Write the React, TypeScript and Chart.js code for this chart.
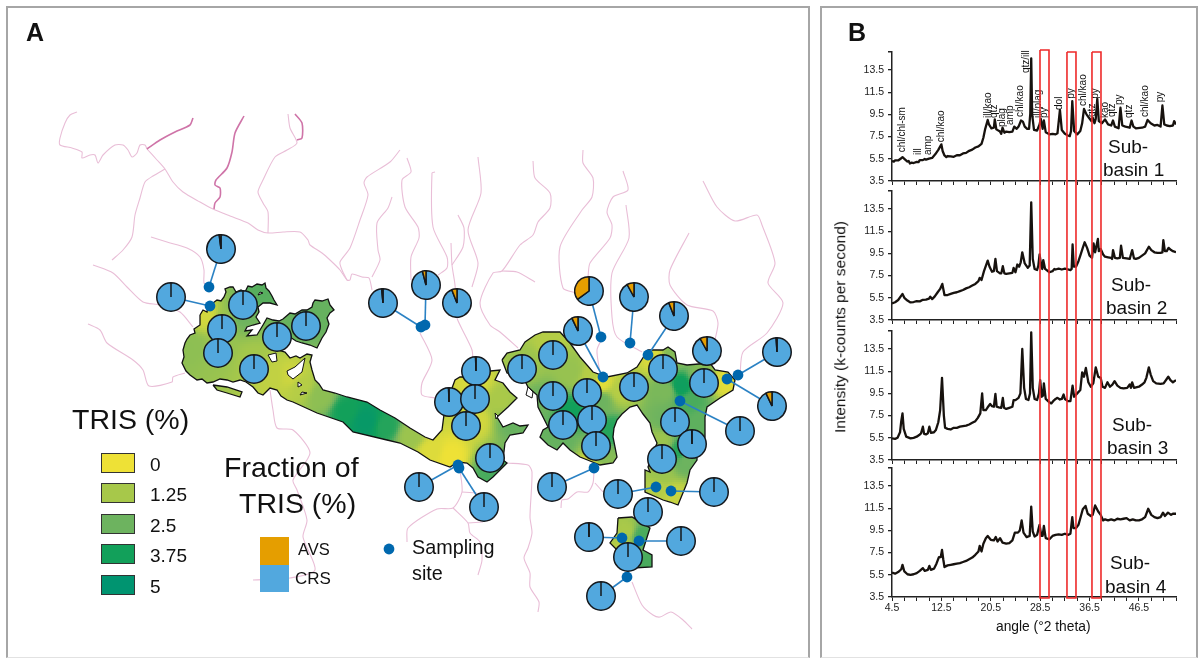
import React, { useEffect, useRef } from "react";
import { Chart, registerables } from "chart.js";
Chart.register(...registerables);

type P = [number, number];
const FONT = '"Liberation Sans", Arial, sans-serif';

/* ---------- Panel A: map data (map units) ---------- */
const riversLight: P[][] = [
  [[77,112],[70,115],[65,123],[60,138],[60,145],[72,148],[82,152],[82,158],[90,155],[95,155],[98,163],[103,155],[115,145],[123,145],[128,150],[132,157],[137,153],[140,145],[145,145],[147,149]],
  [[147,149],[157,160],[165,169],[173,182],[183,192],[200,202],[213,209],[230,216],[248,223],[258,230],[268,233],[283,232],[300,232],[308,240],[310,245],[322,253],[330,260],[340,270],[347,280],[350,280],[352,274],[362,277],[369,278],[372,290]],
  [[268,233],[268,212],[263,203],[258,192],[263,180],[275,157],[287,150],[297,143],[290,128],[288,114]],
  [[165,169],[153,176],[145,182],[140,198],[135,215],[132,237],[123,250],[112,260]],
  [[151,237],[167,242],[187,248],[200,257],[204,270],[204,283],[208,287]],
  [[93,265],[113,273],[127,287],[143,302],[160,305],[180,312],[193,327]],
  [[88,324],[100,330],[107,343],[133,360],[143,370],[149,386],[172,382],[173,377],[185,373]],
  [[270,390],[273,410],[277,428],[293,430],[310,453],[293,480],[297,490],[307,520],[303,537],[315,570],[290,578],[253,580]],
  [[400,150],[390,162],[367,177],[364,183],[368,195],[360,220],[350,248],[340,262],[342,270],[347,280]],
  [[392,197],[388,208],[377,223],[378,250],[380,260],[372,277]],
  [[407,158],[411,172],[402,180],[405,207],[418,227],[419,238],[411,257],[411,280]],
  [[435,172],[432,173],[433,227],[447,257],[447,268],[438,275]],
  [[478,157],[481,193],[468,230],[478,263],[472,287]],
  [[458,215],[464,228],[463,247],[452,265]],
  [[451,243],[452,265],[455,285],[456,305],[457,318],[465,335],[472,350],[473,360]],
  [[420,333],[432,360],[422,383],[422,395],[435,398]],
  [[533,161],[535,178],[550,193],[550,208],[538,222],[533,235],[520,245],[502,271],[493,273],[480,303],[490,325],[500,332],[518,348]],
  [[502,271],[517,272],[535,282]],
  [[583,150],[583,163],[593,178],[592,197],[582,210],[560,247],[563,288],[577,293]],
  [[623,171],[628,190],[613,197],[607,212],[612,225],[610,238],[590,263],[588,277]],
  [[626,205],[629,238],[612,273],[612,317],[617,337],[642,352]],
  [[689,233],[670,270],[670,285],[687,305],[713,311],[718,323],[715,340]],
  [[703,181],[717,207],[735,221],[757,215],[762,225],[775,263],[768,283],[783,303],[767,333],[743,352],[740,377]],
  [[603,337],[597,350],[600,373]],
  [[460,470],[462,492],[453,508],[437,509],[408,528],[407,542]],
  [[462,492],[477,493]],
  [[453,508],[468,523],[470,533],[480,542],[482,560],[478,575]],
  [[468,523],[483,522]],
  [[507,463],[528,465],[532,472],[530,517],[532,533],[528,548],[524,558],[530,573],[530,587],[539,602],[538,612]],
  [[594,470],[593,483],[588,492],[577,492],[568,499],[562,500],[561,508]],
  [[595,483],[603,492]],
  [[632,582],[642,605],[653,615],[660,617],[671,612],[683,620],[692,629]],
];
const riversDark: P[][] = [
  [[147,149],[160,140],[175,132],[190,125],[193,118]],
  [[214,209],[215,203],[220,197],[220,188],[215,185],[216,180],[227,168],[232,152],[235,133],[244,116]],
  [[297,140],[302,138],[302,123],[295,114]],
];

const lakeWest: P[] = [[200,315],[203,310],[207,312],[208,304],[213,303],[217,300],[221,301],[224,297],[226,292],[225,289],[230,287],[233,287],[236,292],[241,290],[245,292],[248,286],[252,287],[257,284],[262,285],[265,283],[266,288],[269,291],[272,296],[274,300],[277,305],[270,303],[263,303],[258,307],[259,312],[256,317],[260,323],[253,325],[247,327],[245,331],[252,330],[247,336],[257,335],[263,325],[267,318],[273,320],[279,321],[283,319],[290,313],[295,314],[302,310],[307,310],[312,307],[313,303],[315,300],[322,301],[328,299],[330,305],[334,310],[330,313],[327,318],[329,324],[326,332],[322,338],[317,348],[310,345],[302,343],[296,341],[290,337],[284,344],[278,350],[285,352],[290,358],[296,356],[300,358],[307,354],[312,355],[310,362],[312,370],[315,380],[319,384],[323,390],[335,393],[347,397],[367,402],[380,410],[395,418],[410,428],[425,437],[433,440],[442,430],[445,407],[455,380],[460,377],[467,377],[480,372],[500,370],[495,380],[503,383],[510,392],[517,398],[508,407],[497,417],[503,427],[513,423],[520,426],[528,425],[523,433],[510,435],[505,443],[503,460],[507,463],[500,470],[493,477],[487,482],[478,477],[473,468],[467,463],[458,462],[450,467],[430,460],[418,452],[400,443],[387,440],[353,432],[343,422],[317,413],[293,402],[287,400],[281,396],[277,390],[270,388],[266,392],[263,395],[258,393],[253,387],[246,382],[240,380],[233,382],[227,380],[220,379],[213,382],[207,383],[202,379],[197,380],[190,375],[186,371],[182,363],[184,357],[183,350],[185,343],[187,339],[190,335],[195,333],[194,329],[200,325]];
const lakeIslet: P[] = [[213,385],[227,387],[242,392],[240,397],[227,393],[217,390]];
const lakeEast: P[] = [[502,360],[507,353],[520,350],[525,342],[535,335],[543,332],[560,332],[570,343],[580,357],[593,372],[607,377],[627,373],[637,367],[648,350],[663,350],[668,347],[675,352],[677,363],[687,365],[710,363],[715,370],[728,372],[735,380],[733,390],[720,398],[707,407],[705,417],[705,437],[697,450],[697,460],[690,470],[687,483],[678,505],[670,502],[663,500],[645,492],[645,470],[650,472],[648,467],[657,443],[652,432],[650,423],[643,414],[637,405],[630,407],[622,414],[617,420],[614,428],[613,437],[617,457],[613,463],[600,465],[590,461],[580,457],[570,450],[563,443],[557,450],[548,445],[540,437],[543,430],[548,427],[543,417],[538,407],[537,395],[528,387],[523,377],[507,373]];
const lakeSouth: P[] = [[618,518],[632,517],[640,522],[650,528],[643,550],[652,555],[652,567],[633,568],[617,550],[610,543],[617,533]];
const lakeHoles: P[][] = [
  [[287,371],[295,367],[305,358],[302,372],[293,379],[288,375]],
  [[268,355],[276,353],[277,361],[272,362]],
  [[260,292],[263,293],[258,295]],
  [[302,392],[307,393],[300,395]],
  [[298,382],[302,385],[298,387]],
  [[528,387],[533,392],[532,398],[526,395]],
  [[495,413],[498,416],[496,419]],
];

const trisField: [number, number, number][] = [
  [205,315,0.5],[225,320,1.5],[240,315,2.5],[260,290,2.8],[320,310,2.6],[300,325,2.6],[190,345,1.8],[220,350,1.6],[250,360,1.3],[270,375,0.8],[290,375,0.6],[300,385,1.0],[320,395,1.8],[345,410,3.75],[365,420,4.5],[385,425,3.5],[410,435,1.5],[430,450,0.3],[450,455,0],[475,420,0.5],[475,380,0.4],[500,400,1.2],[490,470,3],[510,420,2.6],
  [525,365,1.5],[550,340,1.0],[570,370,1.6],[590,375,1.0],[600,382,0.2],[540,400,2.5],[570,410,3.8],[600,400,2.5],[620,390,1.0],[610,430,3.5],[560,440,2.6],[600,455,2.0],[590,465,0.3],
  [655,358,0.3],[670,355,2.0],[665,390,2.2],[680,385,4.0],[700,375,2.0],[725,380,0.2],[690,400,3],[665,420,2.5],[700,420,2.7],[660,440,1.5],[680,450,3.5],[660,470,1.5],[685,460,2.5],[655,490,1.0],[675,495,0.7],
  [625,530,1.2],[640,535,3],[625,550,0.8],[645,560,3],
];

const trisLevels = [0, 1.25, 2.5, 3.75, 5];
const trisLabels = ["0", "1.25", "2.5", "3.75", "5"];
const trisColors = ["#EEE136", "#A7C84A", "#6DB35F", "#12A05A", "#009470"];
const trisRgb: number[][] = [[238,225,54],[167,200,74],[109,179,95],[18,160,90],[0,148,112]];

const pieX = [221,171,243,222,218,254,277,306,383,426,457,476,449,475,466,490,522,553,553,563,587,592,596,634,578,589,634,674,663,707,704,777,772,740,675,692,662,419,484,552,618,714,648,589,681,628,601];
const pieY = [249,297,305,329,353,369,337,326,303,285,303,371,402,399,426,458,369,355,396,425,393,420,446,387,331,291,297,316,369,351,383,352,406,431,422,444,459,487,507,487,494,492,512,537,541,557,596];
const pieAVS = [2,0,0,0,0,0,0,0,1.5,4,6,0.5,0.5,0,0,0,0,0,0,0,0,0,0,0,7,35,8,6,0,8,0,1,7,0,0,0.3,0,0,0,0,0,0,0,0.3,0,0,0];

const siteX = [209,210,421,425,601,630,648,603,738,727,680,458,459,594,656,671,622,639,627];
const siteY = [287,306,327,325,337,343,355,377,375,379,401,465,468,468,487,491,538,541,577];
const legendSiteX = [389];
const legendSiteY = [549];
// pie index -> site index
const links: P[] = [[0,0],[1,1],[8,2],[9,3],[24,7],[25,4],[26,5],[27,6],[31,8],[32,9],[33,10],[37,11],[38,12],[39,13],[40,14],[41,15],[43,16],[44,17],[46,18]];

/* ---------- Panel B: XRD traces ---------- */
const basin1Trace: P[] = [[4.5,5.3],[4.8,5.25],[5,5.35],[5.5,5.35],[6,5.55],[6.2,5.65],[6.5,5.5],[7,5.25],[7.2,5.3],[7.4,5.08],[7.7,5.15],[8,5.12],[8.5,5.22],[8.8,5.2],[9,5.38],[9.5,5.38],[9.8,5.48],[10,5.42],[10.5,5.52],[11,5.58],[11.5,5.9],[12,6.3],[12.5,6.8],[12.7,6.2],[13,5.8],[13.3,5.65],[13.5,5.75],[14,5.72],[14.5,5.68],[15,5.82],[15.5,5.82],[16,5.98],[16.5,6.03],[17,6.22],[17.5,6.33],[18,6.52],[18.5,6.62],[19,6.85],[19.3,7.4],[19.6,8.2],[20,9],[20.2,8.6],[20.6,8.25],[21,8.3],[21.15,9.05],[21.4,8.15],[22,7.95],[22.2,7.75],[22.4,8.3],[22.7,7.85],[23,7.95],[23.5,7.9],[24,7.95],[24.3,8.4],[24.7,8.2],[25,8.4],[25.4,8.95],[25.7,8.85],[26,8.4],[26.4,8.2],[26.7,8.2],[26.9,9.6],[27.05,14.55],[27.2,9.5],[27.5,8.1],[28,8.05],[28.4,8.6],[28.6,9.1],[28.9,8.2],[29.1,8.95],[29.4,7.9],[30,7.7],[30.5,7.75],[31,7.7],[31.3,7.8],[31.7,9.9],[32,8.1],[32.5,7.75],[33,7.6],[33.3,7.55],[33.5,8],[33.7,10.7],[34,8],[34.5,7.7],[35,8],[35.3,8.7],[35.6,10],[36,9.5],[36.4,9.2],[36.8,8.9],[37,9.2],[37.3,8.7],[37.5,9.1],[37.75,10.9],[38,8.9],[38.5,8.7],[39,9.05],[39.5,8.6],[40,8.5],[40.3,8.95],[40.6,8.4],[41.2,8.25],[41.5,10.1],[41.8,8.5],[42.3,8.4],[43,8.3],[43.3,8.95],[43.6,8.4],[44,8.25],[45,8.3],[45.5,8.4],[45.9,9],[46.4,8.7],[47,8.5],[47.5,8.55],[48,8.4],[48.3,10.3],[48.6,8.6],[49,8.5],[49.5,8.45],[50,8.5],[50.2,8.9],[50.5,8.6]];
const basin2Trace: P[] = [[4.5,5],[5,5.1],[5.5,5.3],[6,5.7],[6.2,5.85],[6.5,5.5],[7,5.25],[7.5,5.08],[8,5.12],[8.5,5.2],[9,5.18],[9.5,5.32],[10,5.33],[10.5,5.42],[10.7,5.6],[11,5.38],[11.4,5.6],[11.9,6],[12.3,6.3],[12.65,6.75],[13,5.75],[13.5,5.75],[14,5.85],[14.5,5.95],[15,6],[15.5,6.1],[16,6.2],[16.5,6.35],[17,6.45],[17.5,6.6],[18,6.75],[18.5,7],[18.7,7.3],[19,7.1],[19.4,7.9],[20,8.85],[20.3,8.3],[20.7,7.85],[21,7.9],[21.25,9],[21.5,7.9],[22,7.7],[22.2,7.7],[22.45,8.35],[22.7,7.7],[23,7.65],[23.5,7.7],[24,7.75],[24.2,8.2],[24.5,7.8],[24.8,8.5],[25.1,8.3],[25.35,8.7],[25.6,9.6],[26,8.6],[26.5,8.2],[26.8,8.4],[27.05,14.1],[27.3,9],[27.6,8.1],[28,8],[28.2,8.4],[28.4,9.4],[28.7,8.3],[28.85,8.1],[29,8.9],[29.3,8.1],[30,7.8],[30.5,7.9],[30.8,8.1],[31,8.05],[31.5,8.12],[32,8.05],[32.5,8.12],[33,8.05],[33.4,8],[33.6,8.1],[33.75,10.3],[33.95,8.3],[34.3,8.3],[34.7,8.8],[35,9.3],[35.4,10],[35.7,10.5],[36.1,10],[36.5,9.3],[36.9,9.1],[37.15,10.4],[37.4,9.6],[37.85,10.8],[38,9.7],[38.3,9.9],[38.7,9.4],[39,9.2],[39.5,9.15],[40,9.1],[40.15,9],[40.3,9.8],[40.6,9.1],[41,9.05],[41.4,9.1],[41.6,10.2],[41.9,9.1],[42.5,9.05],[43,9],[43.4,9.8],[43.7,9.05],[44,9],[44.5,9.1],[45,9.3],[45.5,9.5],[46.1,10.1],[46.5,9.8],[47,9.6],[47.5,9.55],[48,9.55],[48.3,9.6],[48.45,10.7],[48.7,9.7],[49,9.7],[49.3,10],[49.7,9.8],[50,9.7],[50.5,9.6]];
const basin3Trace: P[] = [[4.5,5.45],[5,5.4],[5.4,5.5],[5.8,6],[6,7],[6.2,7.7],[6.4,6.3],[6.8,5.6],[7.5,5.45],[8,5.5],[8.5,5.6],[8.9,5.75],[9.2,5.9],[9.5,6.5],[9.7,5.85],[10,5.8],[10.3,5.9],[10.55,6.5],[10.8,5.95],[11.3,6],[11.6,6.2],[12,6.9],[12.3,8],[12.6,10.9],[12.9,7.5],[13.1,6.4],[13.5,6.3],[14,6.25],[14.5,6.4],[15,6.4],[15.5,6.5],[16,6.55],[16.5,6.6],[17,6.7],[17.5,6.85],[18,7],[18.4,7.3],[18.8,7.7],[19.1,9.5],[19.3,8],[19.7,8],[20,8.25],[20.4,8.55],[20.7,8.35],[21,8.3],[21.25,9.45],[21.45,8.3],[21.8,8.25],[22.2,8.2],[22.45,9.1],[22.65,8.2],[23,8.1],[23.5,8.2],[24,8.3],[24.2,8.9],[24.5,8.9],[25,9.1],[25.3,9.5],[25.6,13.5],[25.9,10],[26.2,9],[26.6,8.9],[26.85,9.5],[27.05,15],[27.3,10],[27.6,9],[28,8.9],[28.3,9.5],[28.5,10.7],[28.75,9.2],[28.95,9.3],[29.1,10.4],[29.4,9],[30,8.7],[30.3,8.6],[30.6,8.8],[31,9],[31.3,9.1],[31.7,8.95],[32,9],[32.3,9.4],[32.5,9],[33,8.8],[33.4,8.8],[33.75,10.2],[34,9.2],[34.5,9.5],[35,9.8],[35.3,11.4],[35.6,11],[35.9,11.8],[36.3,10.5],[36.7,10.1],[37.1,10.4],[37.5,11.85],[37.9,11],[38.3,10.9],[38.6,10.1],[39,10],[39.4,10.5],[39.8,10.1],[40.2,10.3],[40.55,10.6],[41,10.2],[41.5,10],[42,9.95],[42.6,10],[43,10.3],[43.2,10],[43.4,10.5],[43.7,10],[44.5,10.1],[45,10.3],[45.4,10.5],[45.7,10.9],[46.1,11.85],[46.4,11.2],[46.8,10.6],[47.3,10.4],[48,10.35],[48.5,10.4],[49.25,11],[49.6,10.7],[50,10.5],[50.5,10.7]];
const basin4Trace: P[] = [[4.5,5.7],[5,5.6],[5.5,5.75],[6,6],[6.2,6.4],[6.5,5.8],[7,5.55],[7.5,5.5],[8,5.55],[8.5,5.65],[9,5.85],[9.5,6.1],[9.8,5.85],[10.3,5.95],[10.55,6.3],[10.8,5.95],[11.3,6.05],[11.7,6.5],[12.1,7.1],[12.4,7.1],[12.6,7.75],[12.8,6.9],[13,6.2],[13.5,6.35],[14,6.4],[14.5,6.45],[15,6.5],[15.5,6.55],[16,6.65],[16.5,6.75],[17,6.9],[17.5,7.05],[18,7.3],[18.5,7.6],[18.7,8.1],[19,7.6],[19.3,8.3],[19.7,8.8],[20,9],[20.5,8.65],[21,8.6],[21.3,8.9],[21.6,8.5],[22,8.8],[22.4,8.4],[23,8.3],[23.5,8.35],[24,8.6],[24.4,9.3],[24.9,9.3],[25.2,9.5],[25.5,10.4],[25.8,9.3],[26.3,8.9],[26.8,9],[27.05,11.65],[27.3,9.4],[27.6,8.95],[28,9.1],[28.4,10],[28.7,9],[28.9,9],[29.1,9.9],[29.4,8.8],[30,8.7],[30.5,9],[31,9.1],[31.5,9.15],[32,9.1],[32.5,9.2],[33,9.1],[33.4,9.2],[33.7,10.7],[33.9,9.7],[34.3,9.7],[34.7,10],[35,10.6],[35.4,11.4],[35.85,11.7],[36.2,11],[36.7,10.8],[37,10.9],[37.4,11.75],[37.9,11.2],[38.3,10.9],[38.7,10.4],[39,10.5],[39.5,10.4],[40,10.5],[40.5,10.4],[41,10.55],[41.5,10.5],[42,10.55],[42.5,10.6],[43,10.4],[43.5,10.5],[44,10.4],[44.5,10.4],[45,10.5],[45.5,10.7],[46,11.45],[46.5,10.9],[47,10.7],[47.5,10.6],[48,10.7],[48.4,11.1],[48.7,10.8],[49.2,11.1],[49.7,10.9],[50,11],[50.5,11]];

const basinTraces = [basin1Trace, basin2Trace, basin3Trace, basin4Trace];
const basinLabels = ["Sub-basin 1", "Sub-basin 2", "Sub-basin 3", "Sub-basin 4"];
const intensityTicks = [3.5, 5.5, 7.5, 9.5, 11.5, 13.5, 15.12];
const angleTicks = [4.5,6.5,8.5,10.5,12.5,14.5,16.5,18.5,20.5,22.5,24.5,26.5,28.5,30.5,32.5,34.5,36.5,38.5,40.5,42.5,44.5,46.5,48.5,50.5];
const angleLabelAt = [4.5, 12.5, 20.5, 28.5, 36.5, 44.5];
const angleLabelText = ["4.5", "12.5", "20.5", "28.5", "36.5", "46.5"];

const peakNames = ["chl/chl-sm","ill","amp","chl/kao","ill/kao","qtz","plag","amp","chl/kao","qtz/ill","ill/plag","py","dol","py","chl/kao","qtz","py","kao","qtz","py","qtz","chl/kao","py"];
const peakAngle = [6.1,8.7,10.3,12.4,20.05,21,22.3,23.6,25.2,26.2,28.15,29.1,31.55,33.5,35.4,36.9,37.5,39,40.1,41.3,42.9,45.6,48];
const peakBase = [6.1,5.84,5.84,7,9.18,9.18,8.36,8.55,9.27,13.23,9.18,9.18,9.9,10.9,10.26,9.27,10.9,9.18,9.27,10.35,9.18,9.27,10.6];

const boxLeft = [28.47, 32.84, 36.89];
const boxRight = [29.93, 34.3, 38.35];
const boxTop = [50, 52, 52];
const boxBottom = [598, 598, 598];

const pts = (a: P[]) => a.map(([x, y]) => ({ x, y }));
const closed = (a: P[]) => pts([...a, a[0]]);

function trisToRgb(v: number) {
  const t = Math.max(0, Math.min(trisLevels.length - 1.001, v / 1.25));
  const i = Math.floor(t), f = t - i;
  const a = trisRgb[i], b = trisRgb[i + 1];
  return [0, 1, 2].map((k) => Math.round(a[k] + (b[k] - a[k]) * f));
}

function makeField(W: number, H: number) {
  const c = document.createElement("canvas");
  c.width = W; c.height = H;
  const g = c.getContext("2d")!;
  g.fillStyle = trisColors[2];
  g.fillRect(0, 0, W, H);
  const step = 2;
  for (let y = 270; y < 580; y += step) {
    for (let x = 170; x < 745; x += step) {
      let s = 0, w = 0;
      for (const [px, py, v] of trisField) {
        const d2 = (px - x) ** 2 + (py - y) ** 2 + 4;
        const k = 1 / (d2 * d2);
        s += k * v; w += k;
      }
      const [r, gg, b] = trisToRgb(s / w);
      g.fillStyle = `rgb(${r},${gg},${b})`;
      g.fillRect(x, y, step, step);
    }
  }
  return g.createPattern(c, "no-repeat")!;
}

const hiddenAxis = (min: number, max: number, reverse = false) => ({ type: "linear" as const, display: false, min, max, reverse });
const lineDs = (data: any[], color: string, width: number, order: number, extra: any = {}) => ({
  data, borderColor: color, borderWidth: width, pointRadius: 0, showLine: true, tension: 0, fill: false, order, ...extra,
});

const peakLabelPlugin = {
  id: "peakLabels",
  afterDatasetsDraw(chart: any) {
    const { ctx, scales } = chart;
    ctx.save();
    ctx.fillStyle = "#111";
    ctx.font = `10px ${FONT}`;
    ctx.textBaseline = "middle";
    ctx.textAlign = "left";
    peakNames.forEach((t, i) => {
      ctx.save();
      ctx.translate(scales.x.getPixelForValue(peakAngle[i]), scales.y.getPixelForValue(peakBase[i]));
      ctx.rotate(-Math.PI / 2);
      ctx.fillText(t, 0, 0);
      ctx.restore();
    });
    ctx.restore();
  },
};

const panelTop = [52, 191, 331, 468];
const panelBottom = [181, 320, 460, 597];
const AXIS_ROOM = [14, 14, 14, 28];

const T = ({ x, y, s, children, w }: any) => (
  <div style={{ position: "absolute", left: x, top: y, transform: "translateY(-50%)", fontSize: s, lineHeight: 1, fontFamily: FONT, color: "#111", whiteSpace: "nowrap", fontWeight: w || 400 }}>{children}</div>
);

export default function App() {
  const mapRef = useRef<HTMLCanvasElement>(null);
  const pieRef = useRef<HTMLDivElement>(null);
  const boxRef = useRef<HTMLCanvasElement>(null);
  const specRefs = useRef<(HTMLCanvasElement | null)[]>([]);

  useEffect(() => {
    const charts: Chart[] = [];
    const pattern = makeField(815, 660);
    const datasets: any[] = [];
    riversLight.forEach((r) => datasets.push(lineDs(pts(r), "#E9BED7", 1.1, 50, { tension: 0.25 })));
    riversDark.forEach((r) => datasets.push(lineDs(pts(r), "#CF74A8", 1.6, 49, { tension: 0.25 })));
    [lakeWest, lakeEast, lakeSouth, lakeIslet].forEach((p) =>
      datasets.push(lineDs(closed(p), "#111", 1.3, 40, { fill: "shape", backgroundColor: pattern })));
    lakeHoles.forEach((p) => datasets.push(lineDs(closed(p), "#111", 1, 39, { fill: "shape", backgroundColor: "#fff" })));
    links.forEach(([p, s]) =>
      datasets.push(lineDs([{ x: pieX[p], y: pieY[p] }, { x: siteX[s], y: siteY[s] }], "#2B82C4", 1.6, 30)));
    datasets.push({
      data: siteX.map((x, i) => ({ x, y: siteY[i] })).concat(legendSiteX.map((x, i) => ({ x, y: legendSiteY[i] }))),
      pointRadius: 5.4, backgroundColor: "#0068AE", borderWidth: 0, showLine: false, order: 20,
    });
    const map = new Chart(mapRef.current!, {
      type: "scatter",
      data: { datasets },
      options: {
        animation: false, responsive: false, events: [],
        layout: { padding: 0, autoPadding: false },
        plugins: { legend: { display: false }, tooltip: { enabled: false } },
        scales: { x: hiddenAxis(0, 815), y: hiddenAxis(0, 660, true) },
      },
    } as any);
    charts.push(map);

    // pies as real pie charts placed through the map's scales
    const host = pieRef.current!;
    const made: HTMLCanvasElement[] = [];
    const D = 30;
    pieX.forEach((x, i) => {
      const c = document.createElement("canvas");
      c.width = D; c.height = D;
      c.style.cssText = `position:absolute;width:${D}px;height:${D}px;left:${map.scales.x.getPixelForValue(x) - D / 2}px;top:${map.scales.y.getPixelForValue(pieY[i]) - D / 2}px`;
      host.appendChild(c);
      made.push(c);
      charts.push(new Chart(c, {
        type: "pie",
        data: { labels: ["CRS", "AVS"], datasets: [{ data: [100 - pieAVS[i], pieAVS[i]], backgroundColor: ["#52A8DE", "#E59E00"], borderColor: "#15181c", borderWidth: 1.5 }] },
        options: { animation: false, responsive: false, events: [], layout: { padding: 0 }, plugins: { legend: { display: false }, tooltip: { enabled: false } } },
      }));
    });

    basinTraces.forEach((trace, i) => {
      const last = i === 3;
      const top = panelTop[i], bottom = panelBottom[i];
      const cv = specRefs.current[i]!;
      charts.push(new Chart(cv, {
        type: "line",
        data: { datasets: [{ label: basinLabels[i], data: pts(trace), borderColor: "#17120e", borderWidth: 2.3, pointRadius: 0, tension: 0, borderJoinStyle: "round" }] },
        options: {
          animation: false, responsive: false, events: [],
          layout: { autoPadding: false, padding: { top: 12, right: 9, left: 0, bottom: 0 } },
          plugins: { legend: { display: false }, tooltip: { enabled: false } },
          scales: {
            x: {
              type: "linear", min: 4.5, max: 50.5,
              afterBuildTicks: (s: any) => { s.ticks = angleTicks.map((value) => ({ value })); },
              afterFit: (s: any) => { s.height = AXIS_ROOM[i]; },
              border: { color: "#222", width: 1.5 },
              grid: { drawOnChartArea: false, tickLength: 4, color: "#222", lineWidth: 1 },
              ticks: {
                autoSkip: false, maxRotation: 0, padding: 1, color: "#222",
                font: { family: FONT, size: 10.5 },
                callback: (v: any) => { const k = angleLabelAt.indexOf(Number(v)); return last && k >= 0 ? angleLabelText[k] : ""; },
              },
            },
            y: {
              type: "linear", min: 3.5, max: 3.5 + (bottom - top) / 11.1,
              afterBuildTicks: (s: any) => { s.ticks = intensityTicks.filter((v) => v < s.max).concat([s.max]).map((value) => ({ value })); },
              afterFit: (s: any) => { s.width = 47; },
              border: { color: "#222", width: 1.5 },
              grid: { drawOnChartArea: false, tickLength: 4, color: "#222", lineWidth: 1.3 },
              ticks: {
                autoSkip: false, padding: 4, color: "#222",
                font: { family: FONT, size: 10.5 },
                callback: (v: any) => (Number(v) < 14 ? Number(v).toFixed(1) : ""),
              },
            },
          },
        },
        plugins: i === 0 ? [peakLabelPlugin] : [],
      } as any));
    });

    charts.push(new Chart(boxRef.current!, {
      type: "scatter",
      data: {
        datasets: boxLeft.map((l, i) => lineDs(
          [{ x: l, y: boxTop[i] }, { x: boxRight[i], y: boxTop[i] }, { x: boxRight[i], y: boxBottom[i] }, { x: l, y: boxBottom[i] }, { x: l, y: boxTop[i] }],
          "#EE2A2A", 1.6, 1)),
      },
      options: {
        animation: false, responsive: false, events: [],
        layout: { padding: 0, autoPadding: false },
        plugins: { legend: { display: false }, tooltip: { enabled: false } },
        scales: { x: hiddenAxis(4.5, 50.5), y: hiddenAxis(0, 660, true) },
      },
    } as any));

    return () => {
      charts.forEach((c) => c.destroy());
      made.forEach((c) => c.remove());
    };
  }, []);

  const frame = (left: number, width: number) => (
    <div style={{ position: "absolute", left, top: 6, width, height: 652, boxSizing: "border-box", borderLeft: "2px solid #a6a6a6", borderTop: "2px solid #a6a6a6", borderRight: "2px solid #a6a6a6", borderBottom: "1px solid #e2e2e2" }} />
  );
  const swatchTops = [453, 483, 514, 544, 575];

  return (
    <div style={{ position: "fixed", left: 0, top: 0, width: 1201, height: 660, background: "#fff", overflow: "hidden" }}>
      {frame(6, 804)}
      {frame(820, 378)}
      <canvas ref={mapRef} width={815} height={660} style={{ position: "absolute", left: 0, top: 0 }} />
      <div ref={pieRef} style={{ position: "absolute", left: 0, top: 0 }} />
      {basinTraces.map((_, i) => {
        const h = panelBottom[i] - panelTop[i] + 12 + AXIS_ROOM[i];
        return (
          <canvas key={i} ref={(el) => { specRefs.current[i] = el; }} width={340} height={h}
            style={{ position: "absolute", left: 845, top: panelTop[i] - 12 }} />
        );
      })}
      <canvas ref={boxRef} width={284} height={660} style={{ position: "absolute", left: 892, top: 0 }} />

      <T x={26} y={32} s={25} w={700}>A</T>
      <T x={848} y={32} s={25} w={700}>B</T>

      <T x={72} y={419} s={28.5}>TRIS (%)</T>
      {trisLabels.map((t, i) => (
        <React.Fragment key={t}>
          <div style={{ position: "absolute", left: 101, top: swatchTops[i], width: 34, height: 20, boxSizing: "border-box", background: trisColors[i], border: "1.5px solid #333" }} />
          <T x={150} y={swatchTops[i] + 10.5} s={19}>{t}</T>
        </React.Fragment>
      ))}
      <T x={224} y={467} s={28.5}>Fraction of</T>
      <T x={239} y={503} s={28.5}>TRIS (%)</T>
      <div style={{ position: "absolute", left: 260, top: 537, width: 29, height: 28, background: "#E59E00" }} />
      <div style={{ position: "absolute", left: 260, top: 565, width: 29, height: 27, background: "#52A8DE" }} />
      <T x={298} y={549} s={16.5}>AVS</T>
      <T x={295} y={578} s={17}>CRS</T>
      <T x={412} y={548} s={19.8}>Sampling</T>
      <T x={412} y={574} s={19.8}>site</T>

      <T x={1108} y={146} s={19}>Sub-</T>
      <T x={1103} y={169} s={19}>basin 1</T>
      <T x={1111} y={284} s={19}>Sub-</T>
      <T x={1106} y={307} s={19}>basin 2</T>
      <T x={1112} y={424} s={19}>Sub-</T>
      <T x={1107} y={447} s={19}>basin 3</T>
      <T x={1110} y={562} s={19}>Sub-</T>
      <T x={1105} y={586} s={19}>basin 4</T>

      <T x={996} y={627} s={13.8}>angle (°2 theta)</T>
      <div style={{ position: "absolute", left: 840, top: 327, transform: "translate(-50%,-50%) rotate(-90deg)", fontSize: 15.5, lineHeight: 1, fontFamily: FONT, color: "#111", whiteSpace: "nowrap" }}>Intensity (k-counts per second)</div>
    </div>
  );
}
